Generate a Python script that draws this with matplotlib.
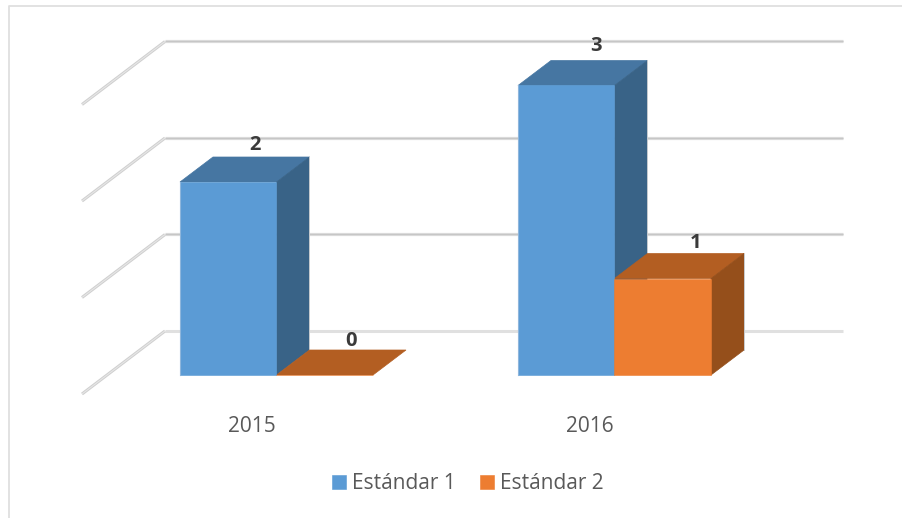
import numpy as np
import matplotlib
matplotlib.use('Agg')
import matplotlib.pyplot as plt
from matplotlib.patches import Polygon

plt.rcParams['font.family'] = ['Open Sans', 'DejaVu Sans']

years = ['2015', '2016']
estandar_1 = [2, 3]
estandar_2 = [0, 1]
grid_values = [0, 1, 2, 3]

W, H = 903, 518
# one category = 338 px, one unit of value = 96.5 px
X_PX = 338.0
Y_PX = 96.5
BAR_W = 96.5 / X_PX
DX = 33 / X_PX   # depth of a bar
DY = 25 / Y_PX

# where the value labels sit, px from the bar's front top corner
label_dx_1 = [-22, -19]
label_dx_2 = [75, 81]
label_dy_1 = [37, 39]
label_dy_2 = [34, 36]

fig = plt.figure(figsize=(W / 100, H / 100), dpi=100)
ax = fig.add_axes([0, 0, 1, 1])
ax.set_xlim(-276.5 / X_PX, (W - 276.5) / X_PX)
ax.set_ylim(-(H - 375) / Y_PX, 375 / Y_PX)
ax.axis('off')

# chart frame, only top and left show in the picture
ax.plot([1.0, 0.0105, 0.0105], [0.9875, 0.9875, 0.0], transform=ax.transAxes,
        color='#dfdfdf', lw=1.3, clip_on=False, zorder=1)

# walls: the gridlines run back along the floor, then across the wall
x_start = (82 - 276.5) / X_PX
x_back = (165 - 276.5) / X_PX
x_end = (843 - 276.5) / X_PX
for v in grid_values:
    gx = [x_start, x_back, x_end]
    gy = [v - 19 / Y_PX, v + 44 / Y_PX, v + 44 / Y_PX]
    if v == 0:
        ax.plot(gx[1:], gy[1:], color='#e0e0e0', lw=2.2, zorder=2, solid_capstyle='butt')
    else:
        ax.plot(gx[1:], gy[1:], color='#dedede', lw=2.3, zorder=2, solid_capstyle='butt')
        ax.plot(gx[1:], gy[1:], color='#c6c6c6', lw=0.9, zorder=2.1, solid_capstyle='butt')
    ax.plot(gx[:2], gy[:2], color='#cfcfcf', lw=2.2, zorder=2, solid_capstyle='butt')
    ax.plot(gx[:2], gy[:2], color='#e6e6e6', lw=0.8, zorder=2.1, solid_capstyle='butt')


def bar3d(x, v, top, side, z):
    l, r = x, x + BAR_W
    ax.add_patch(Polygon([(l, v), (r, v), (r + DX, v + DY), (l + DX, v + DY)],
                         facecolor=top, edgecolor=top, lw=0.5, zorder=z))
    if v > 0:
        ax.add_patch(Polygon([(r, 0), (r + DX, DY), (r + DX, v + DY), (r, v)],
                             facecolor=side, edgecolor=side, lw=0.5, zorder=z))
        ax.plot([r + DX, r + DX], [DY, v + DY], color='#c8ccd0', lw=0.7, zorder=z)


x_pos = np.arange(len(years))
colors_1 = ('#5b9bd5', '#4676a2', '#396387')
colors_2 = ('#ed7d31', '#b35e22', '#954f1b')

for i, x in enumerate(x_pos):
    bar3d(x - BAR_W, estandar_1[i], colors_1[1], colors_1[2], 3 + i)
    bar3d(x, estandar_2[i], colors_2[1], colors_2[2], 3.5 + i)

ax.bar(x_pos, estandar_1, width=-BAR_W, align='edge', color=colors_1[0],
       edgecolor=colors_1[0], lw=0.4, label='Estándar 1', zorder=5.8)
ax.bar(x_pos, estandar_2, width=BAR_W, align='edge', color=colors_2[0],
       edgecolor=colors_2[0], lw=0.4, label='Estándar 2', zorder=5.9)

for i, x in enumerate(x_pos):
    # pale left edge of the blue bar
    ax.plot([x - BAR_W, x - BAR_W], [0, estandar_1[i]], color='#8fb6dc', lw=0.8, zorder=6)
    ax.text(x + label_dx_1[i] / X_PX, estandar_1[i] + label_dy_1[i] / Y_PX, str(estandar_1[i]),
            ha='center', va='center', fontsize=14.5, fontweight='bold', color='#3a3a3a', zorder=7)
    ax.text(x + label_dx_2[i] / X_PX, estandar_2[i] + label_dy_2[i] / Y_PX, str(estandar_2[i]),
            ha='center', va='center', fontsize=14.5, fontweight='bold', color='#3a3a3a', zorder=7)
    ax.text(x - 25 / X_PX, -52 / Y_PX, years[i], ha='center', va='center',
            fontsize=15, color='#595959', zorder=7)

ax.legend(loc='center', bbox_to_anchor=(468 / W, 1 - 483.5 / H), ncol=2, frameon=False,
          fontsize=15, labelcolor='#595959', handlelength=0.67, handleheight=0.67,
          handletextpad=0.3, columnspacing=1.16, borderpad=0)

fig.savefig('out.png', dpi=100)
